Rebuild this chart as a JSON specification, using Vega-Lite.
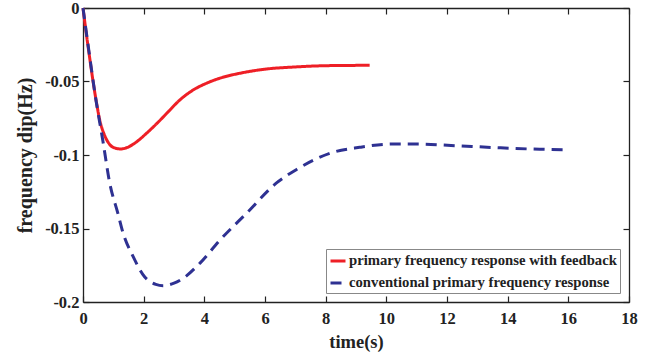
{
  "$schema": "https://vega.github.io/schema/vega-lite/v6.json",
  "width": 546,
  "height": 294,
  "autosize": {"type": "none"},
  "padding": {"left": 83, "top": 8, "right": 31, "bottom": 60},
  "background": "white",
  "config": {
    "font": "Liberation Serif",
    "view": {"stroke": null},
    "axis": {
      "labelFont": "Liberation Serif",
      "labelFontWeight": "bold",
      "labelFontSize": 16.5,
      "labelColor": "#222",
      "titleFont": "Liberation Serif",
      "titleFontWeight": "bold",
      "titleColor": "#222",
      "domainColor": "#222",
      "tickColor": "#222",
      "domainWidth": 1.3,
      "tickWidth": 1.2,
      "tickSize": -6,
      "labelFlush": false,
      "grid": false
    },
    "legend": {
      "orient": "none",
      "legendX": 243,
      "legendY": 241,
      "symbolType": "stroke",
      "symbolSize": 225,
      "symbolStrokeWidth": 3,
      "labelFont": "Liberation Serif",
      "labelFontWeight": "bold",
      "labelFontSize": 14.7,
      "labelColor": "#222",
      "padding": 3,
      "rowPadding": 6,
      "labelOffset": 2,
      "strokeColor": "#888",
      "fillColor": "white",
      "labelLimit": 400
    }
  },
  "data": {
    "values": [
      {"series": "primary frequency response with feedback", "t": 0, "f": 0},
      {"series": "primary frequency response with feedback", "t": 0.1, "f": -0.016},
      {"series": "primary frequency response with feedback", "t": 0.2, "f": -0.031},
      {"series": "primary frequency response with feedback", "t": 0.33, "f": -0.0497},
      {"series": "primary frequency response with feedback", "t": 0.45, "f": -0.065},
      {"series": "primary frequency response with feedback", "t": 0.55, "f": -0.076},
      {"series": "primary frequency response with feedback", "t": 0.7, "f": -0.086},
      {"series": "primary frequency response with feedback", "t": 0.85, "f": -0.092},
      {"series": "primary frequency response with feedback", "t": 1.0, "f": -0.0948},
      {"series": "primary frequency response with feedback", "t": 1.24, "f": -0.0959},
      {"series": "primary frequency response with feedback", "t": 1.5, "f": -0.0945},
      {"series": "primary frequency response with feedback", "t": 1.8, "f": -0.0905},
      {"series": "primary frequency response with feedback", "t": 2.09, "f": -0.0853},
      {"series": "primary frequency response with feedback", "t": 2.5, "f": -0.0772},
      {"series": "primary frequency response with feedback", "t": 2.8, "f": -0.0708},
      {"series": "primary frequency response with feedback", "t": 3.19, "f": -0.0626},
      {"series": "primary frequency response with feedback", "t": 3.6, "f": -0.0562},
      {"series": "primary frequency response with feedback", "t": 4.07, "f": -0.0512},
      {"series": "primary frequency response with feedback", "t": 4.6, "f": -0.0472},
      {"series": "primary frequency response with feedback", "t": 5.17, "f": -0.0444},
      {"series": "primary frequency response with feedback", "t": 6.05, "f": -0.0415},
      {"series": "primary frequency response with feedback", "t": 7.0, "f": -0.0401},
      {"series": "primary frequency response with feedback", "t": 7.58, "f": -0.0395},
      {"series": "primary frequency response with feedback", "t": 8.5, "f": -0.0391},
      {"series": "primary frequency response with feedback", "t": 9.45, "f": -0.039},
      {"series": "conventional primary frequency response", "t": 0, "f": 0},
      {"series": "conventional primary frequency response", "t": 0.2, "f": -0.030},
      {"series": "conventional primary frequency response", "t": 0.4, "f": -0.059},
      {"series": "conventional primary frequency response", "t": 0.66, "f": -0.091},
      {"series": "conventional primary frequency response", "t": 0.88, "f": -0.119},
      {"series": "conventional primary frequency response", "t": 1.15, "f": -0.1397},
      {"series": "conventional primary frequency response", "t": 1.32, "f": -0.153},
      {"series": "conventional primary frequency response", "t": 1.65, "f": -0.169},
      {"series": "conventional primary frequency response", "t": 2.03, "f": -0.1828},
      {"series": "conventional primary frequency response", "t": 2.4, "f": -0.188},
      {"series": "conventional primary frequency response", "t": 2.64, "f": -0.1889},
      {"series": "conventional primary frequency response", "t": 3.0, "f": -0.1872},
      {"series": "conventional primary frequency response", "t": 3.3, "f": -0.1839},
      {"series": "conventional primary frequency response", "t": 3.85, "f": -0.1737},
      {"series": "conventional primary frequency response", "t": 4.51, "f": -0.158},
      {"series": "conventional primary frequency response", "t": 5.39, "f": -0.1397},
      {"series": "conventional primary frequency response", "t": 6.38, "f": -0.119},
      {"series": "conventional primary frequency response", "t": 7.03, "f": -0.110},
      {"series": "conventional primary frequency response", "t": 7.6, "f": -0.1035},
      {"series": "conventional primary frequency response", "t": 8.24, "f": -0.0982},
      {"series": "conventional primary frequency response", "t": 9.12, "f": -0.0948},
      {"series": "conventional primary frequency response", "t": 10.22, "f": -0.0925},
      {"series": "conventional primary frequency response", "t": 10.99, "f": -0.0925},
      {"series": "conventional primary frequency response", "t": 12.31, "f": -0.0937},
      {"series": "conventional primary frequency response", "t": 13.63, "f": -0.095},
      {"series": "conventional primary frequency response", "t": 15.06, "f": -0.0961},
      {"series": "conventional primary frequency response", "t": 16.0, "f": -0.0964}
    ]
  },
  "layer": [
    {
      "mark": {"type": "line", "interpolate": "monotone", "strokeWidth": 3},
      "encoding": {
        "x": {
          "field": "t", "type": "quantitative",
          "scale": {"domain": [0, 18], "nice": false, "zero": false},
          "axis": {"orient": "bottom", "values": [0, 2, 4, 6, 8, 10, 12, 14, 16, 18], "title": "time(s)", "titleFontSize": 18.5, "labelPadding": 14, "titlePadding": 6}
        },
        "y": {
          "field": "f", "type": "quantitative",
          "scale": {"domain": [-0.2, 0], "nice": false, "zero": false},
          "axis": {"orient": "left", "values": [-0.2, -0.15, -0.1, -0.05, 0], "labelExpr": "'' + datum.value", "title": "frequency dip(Hz)", "titleFontSize": 20, "labelPadding": 10, "titlePadding": 9}
        },
        "color": {
          "field": "series", "type": "nominal",
          "scale": {"domain": ["primary frequency response with feedback", "conventional primary frequency response"], "range": ["#ee1f26", "#2e3192"]},
          "legend": {"title": null}
        },
        "strokeDash": {
          "field": "series", "type": "nominal",
          "scale": {"domain": ["primary frequency response with feedback", "conventional primary frequency response"], "range": [[1, 0], [11, 7]]},
          "legend": null
        }
      }
    },
    {
      "mark": {"type": "line", "opacity": 0},
      "encoding": {
        "x": {
          "field": "t", "type": "quantitative",
          "scale": {"domain": [0, 18], "nice": false, "zero": false},
          "axis": {"orient": "top", "values": [0, 2, 4, 6, 8, 10, 12, 14, 16, 18], "labels": false, "title": null}
        },
        "y": {
          "field": "f", "type": "quantitative",
          "scale": {"domain": [-0.2, 0], "nice": false, "zero": false},
          "axis": {"orient": "right", "values": [-0.2, -0.15, -0.1, -0.05, 0], "labels": false, "title": null}
        }
      }
    }
  ],
  "resolve": {"scale": {"x": "independent", "y": "independent"}}
}
